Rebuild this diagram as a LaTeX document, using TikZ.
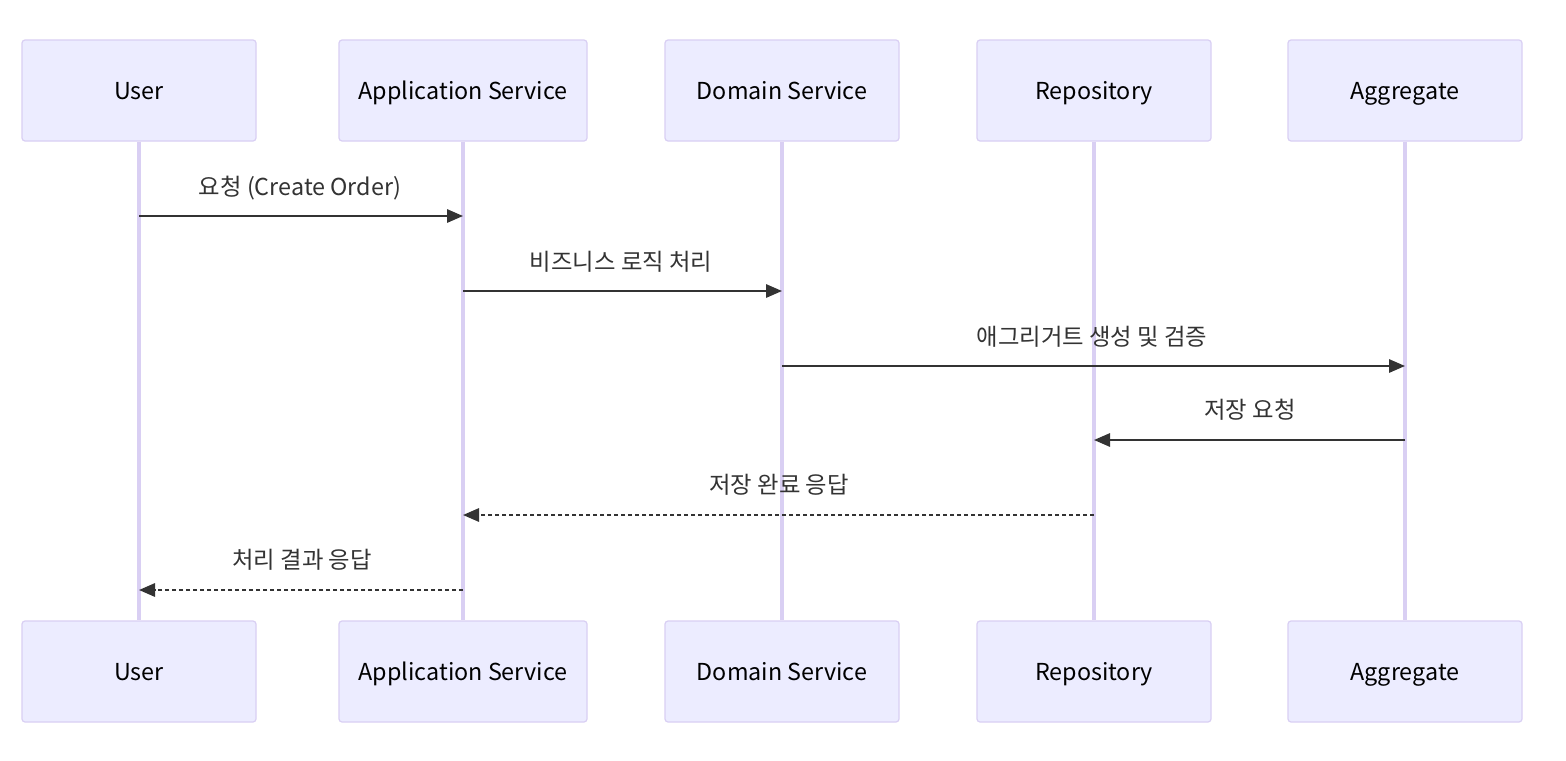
\documentclass[tikz,border=0pt]{standalone}
\usepackage{fontspec}
\setmainfont{Noto Sans CJK KR}
\usetikzlibrary{arrows.meta}
\definecolor{actorfill}{HTML}{ECECFF}
\definecolor{actorline}{HTML}{D9CFF3}
\definecolor{ink}{HTML}{333333}
\tikzset{
  actor/.style={draw=actorline, fill=actorfill, line width=0.9pt, rounded corners=2.25pt,
    minimum height=75.75pt, text=black, font=\fontsize{17.5pt}{20pt}\selectfont, inner sep=0pt,
    text height=1.5em, text depth=0.22em},
  life/.style={draw=actorline, line width=2.6pt},
  msg/.style={draw=ink, line width=1.5pt, -{Triangle[length=12pt,width=10pt]}},
  reply/.style={msg, dash pattern=on 3pt off 2.25pt},
  lbl/.style={text=ink, font=\fontsize{17.5pt}{20pt}\selectfont, inner sep=0pt,
    text height=1.5em, text depth=0.22em}
}
\begin{document}
\begin{tikzpicture}[x=0.75pt,y=-0.75pt]
\useasboundingbox (0,0) rectangle (1566,760);
\fill[white] (0,0) rectangle (1566,760);
% top actors
\node[actor, minimum width=175.5pt] (u)  at (139,90.5)  {User};
\node[actor, minimum width=186pt]   (as) at (463,90.5)  {Application Service};
\node[actor, minimum width=175.5pt] (ds) at (782,90.5)  {Domain Service};
\node[actor, minimum width=175.5pt] (re) at (1094,90.5) {Repository};
\node[actor, minimum width=175.5pt] (ag) at (1405,90.5) {Aggregate};
% bottom actors
\node[actor, minimum width=175.5pt] (ub)  at (139,671.5)  {User};
\node[actor, minimum width=186pt]   (asb) at (463,671.5)  {Application Service};
\node[actor, minimum width=175.5pt] (dsb) at (782,671.5)  {Domain Service};
\node[actor, minimum width=175.5pt] (reb) at (1094,671.5) {Repository};
\node[actor, minimum width=175.5pt] (agb) at (1405,671.5) {Aggregate};
% lifelines
\draw[life] (u.south) -- (ub.north);
\draw[life] (as.south) -- (asb.north);
\draw[life] (ds.south) -- (dsb.north);
\draw[life] (re.south) -- (reb.north);
\draw[life] (ag.south) -- (agb.north);
% messages
\draw[msg] (u.south |- 0,216) -- (as.south |- 0,216);
\node[lbl] (l1) at (300,187) {요청 (Create Order)};
\draw[msg] (as.south |- 0,291) -- (ds.south |- 0,291);
\node[lbl] (l2) at (621,262) {비즈니스 로직 처리};
\draw[msg] (ds.south |- 0,366) -- (ag.south |- 0,366);
\node[lbl] (l3) at (1092,337) {애그리거트 생성 및 검증};
\draw[msg] (ag.south |- 0,440) -- (re.south |- 0,440);
\node[lbl] (l4) at (1250,410) {저장 요청};
\draw[reply] (re.south |- 0,515) -- (as.south |- 0,515);
\node[lbl] (l5) at (779,485) {저장 완료 응답};
\draw[reply] (as.south |- 0,590) -- (u.south |- 0,590);
\node[lbl] (l6) at (302,560) {처리 결과 응답};
\end{tikzpicture}
\end{document}
